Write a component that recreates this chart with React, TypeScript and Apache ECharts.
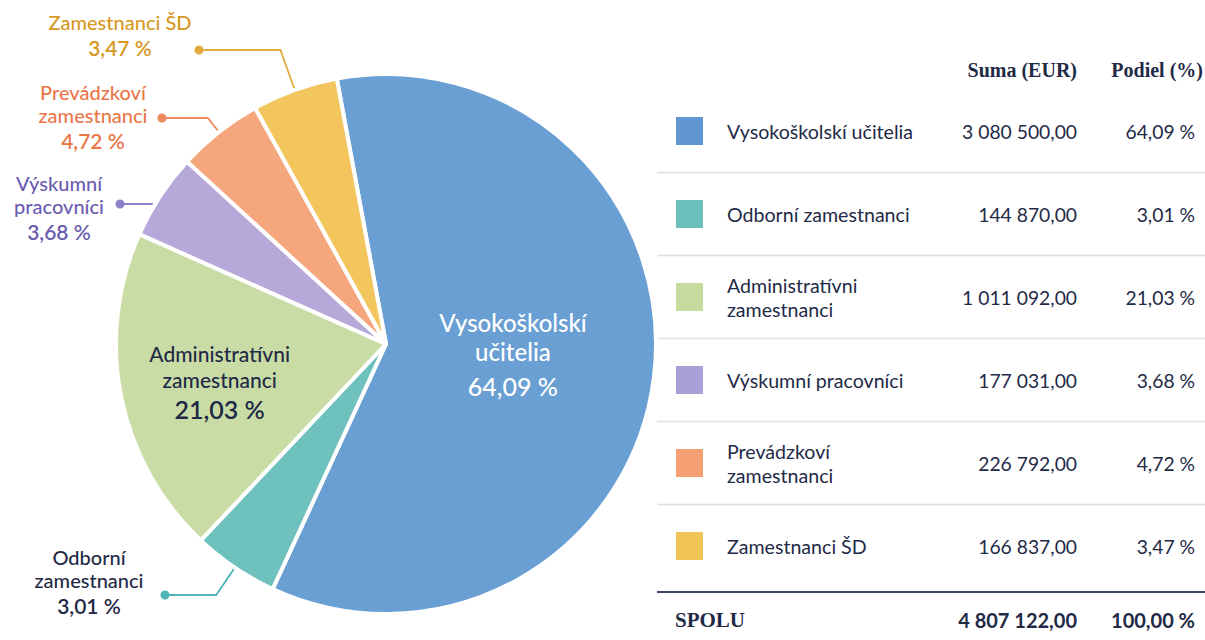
import React, { useEffect, useRef } from 'react';
import * as echarts from 'echarts';

// ---------- data ----------
const categories = [
  'Vysokoškolskí učitelia',
  'Odborní zamestnanci',
  'Administratívni zamestnanci',
  'Výskumní pracovníci',
  'Prevádzkoví zamestnanci',
  'Zamestnanci ŠD',
];
const pieLabelNames = [
  'Vysokoškolskí\nučitelia',
  'Odborní\nzamestnanci',
  'Administratívni\nzamestnanci',
  'Výskumní\npracovníci',
  'Prevádzkoví\nzamestnanci',
  'Zamestnanci ŠD',
];
const tableLabelNames = [
  'Vysokoškolskí učitelia',
  'Odborní zamestnanci',
  'Administratívni\nzamestnanci',
  'Výskumní pracovníci',
  'Prevádzkoví\nzamestnanci',
  'Zamestnanci ŠD',
];
const amounts = [3080500.0, 144870.0, 1011092.0, 177031.0, 226792.0, 166837.0];
const shares = [64.09, 3.01, 21.03, 3.68, 4.72, 3.47];
const totalShare = 100.0;
const headerLabels = ['Suma (EUR)', 'Podiel (%)'];
const totalLabel = 'SPOLU';

// ---------- styles ----------
const sliceColors = ['#6a9fd3', '#6fc1be', '#cadca5', '#b7a8da', '#f5a67c', '#f2c65d'];
const squareColors = ['#6097d2', '#6cbfbb', '#c6db9e', '#ab9fd8', '#f59f74', '#f0c456'];
const NAVY = '#1f2a47';
const FONT = 'Lato, "Noto Sans", sans-serif';
const SERIF = '"Liberation Serif", "DejaVu Serif", serif';

// outside label layout: index, dot position, text center, colours
const outerLabels = [
  { idx: 5, dot: [199, 50], text: [120, 22], textColor: '#d7981f', lineColor: '#e2ab40', mode: 'elbow' },
  { idx: 4, dot: [162, 118], text: [93, 92], textColor: '#e9774a', lineColor: '#ec8a5e', mode: 'elbow' },
  { idx: 3, dot: [120, 204], text: [59, 183], textColor: '#6a5db0', lineColor: '#8e81c9', mode: 'horizontal' },
  { idx: 1, dot: [165, 595], text: [89, 557], textColor: NAVY, lineColor: '#4fb4b6', mode: 'elbow' },
];

function fmtAmount(v: number): string {
  const [i, d] = v.toFixed(2).split('.');
  return i.replace(/\B(?=(\d{3})+(?!\d))/g, ' ') + ',' + d;
}
function fmtPct(v: number): string {
  return v.toFixed(2).replace('.', ',') + ' %';
}

export default function App() {
  const ref = useRef<HTMLDivElement>(null);

  useEffect(() => {
    document.body.style.margin = '0';
    const chart = echarts.init(ref.current!, null, { renderer: 'svg' });

    const innerLabels: Record<number, any> = {
      0: {
        show: true,
        position: 'inside',
        offset: [-10, -4],
        formatter: `{n|${pieLabelNames[0]}}\n{p|${fmtPct(shares[0])}}`,
        rich: {
          n: { fontFamily: FONT, fontSize: 24, fontWeight: 500, lineHeight: 29, color: '#ffffff', align: 'center' },
          p: { fontFamily: FONT, fontSize: 25, fontWeight: 500, lineHeight: 40, color: '#ffffff', align: 'center' },
        },
      },
      2: {
        show: true,
        position: 'inside',
        offset: [-31, 12],
        formatter: `{n|${pieLabelNames[2]}}\n{p|${fmtPct(shares[2])}}`,
        rich: {
          n: { fontFamily: FONT, fontSize: 21, fontWeight: 500, lineHeight: 26, color: NAVY, align: 'center' },
          p: { fontFamily: FONT, fontSize: 25, lineHeight: 33, color: NAVY, fontWeight: 600, align: 'center' },
        },
      },
    };

    const pieData = amounts.map((v, i) => ({
      name: categories[i],
      value: v,
      itemStyle: { color: sliceColors[i] },
      label: innerLabels[i] || { show: false },
    }));

    // ---- table ----
    const table: any[] = [];
    const colAmountX = 1077;
    const colPctX = 1195;
    const nameX = 727;
    const rowY = (i: number) => 131 + i * 83;
    table.push({
      type: 'text',
      style: { text: headerLabels[0], x: colAmountX, y: 70, align: 'right', verticalAlign: 'middle', font: `bold 20px ${SERIF}`, fill: NAVY },
    });
    table.push({
      type: 'text',
      style: { text: headerLabels[1], x: 1203, y: 70, align: 'right', verticalAlign: 'middle', font: `bold 20px ${SERIF}`, fill: NAVY },
    });
    categories.forEach((_, i) => {
      const y = rowY(i);
      table.push({ type: 'rect', shape: { x: 676, y: y - 14, width: 27, height: 28 }, style: { fill: squareColors[i] } });
      table.push({
        type: 'text',
        style: { text: tableLabelNames[i], x: nameX, y, align: 'left', verticalAlign: 'middle', fontFamily: FONT, fontSize: 19.6, lineHeight: 24, fill: NAVY },
      });
      table.push({
        type: 'text',
        style: { text: fmtAmount(amounts[i]), x: colAmountX, y, align: 'right', verticalAlign: 'middle', fontFamily: FONT, fontSize: 19.3, fill: NAVY },
      });
      table.push({
        type: 'text',
        style: { text: fmtPct(shares[i]), x: colPctX, y, align: 'right', verticalAlign: 'middle', fontFamily: FONT, fontSize: 19.3, fill: NAVY },
      });
      if (i < categories.length - 1) {
        const sy = y + 41.5;
        table.push({ type: 'line', shape: { x1: 657, y1: sy, x2: 1205, y2: sy }, style: { stroke: '#dcdfe5', lineWidth: 1.5 } });
      }
    });
    const totalLineY = rowY(categories.length - 1) + 46;
    table.push({ type: 'line', shape: { x1: 657, y1: totalLineY, x2: 1205, y2: totalLineY }, style: { stroke: '#3a455f', lineWidth: 2 } });
    const total = amounts.reduce((a, b) => a + b, 0);
    const ty = totalLineY + 28;
    table.push({ type: 'text', style: { text: totalLabel, x: 675, y: ty, align: 'left', verticalAlign: 'middle', font: `bold 21px ${SERIF}`, fill: NAVY } });
    table.push({ type: 'text', style: { text: fmtAmount(total), x: colAmountX, y: ty, align: 'right', verticalAlign: 'middle', fontFamily: FONT, fontSize: 20, fontWeight: 'bold', fill: NAVY } });
    table.push({ type: 'text', style: { text: fmtPct(totalShare), x: colPctX, y: ty, align: 'right', verticalAlign: 'middle', fontFamily: FONT, fontSize: 20, fontWeight: 'bold', fill: NAVY } });

    chart.setOption({
      animation: false,
      backgroundColor: '#ffffff',
      series: [
        {
          type: 'pie',
          center: [386, 344],
          radius: [0, 270],
          startAngle: 100.5,
          minAngle: 18.5,
          clockwise: true,
          avoidLabelOverlap: false,
          emphasis: { disabled: true },
          itemStyle: { borderColor: '#ffffff', borderWidth: 4 },
          labelLine: { show: false },
          data: pieData,
        },
      ],
      graphic: [{ type: 'group', id: 'table', children: table }],
    });

    // ---- outside labels, computed from the pie layout ----
    const outer: any[] = [];
    try {
      const seriesModel = (chart as any).getModel().getSeriesByIndex(0);
      const data = seriesModel.getData();
      outerLabels.forEach((cfg) => {
        const lay = data.getItemLayout(cfg.idx);
        const cx = lay.cx, cy = lay.cy, r = lay.r;
        const mid = (lay.startAngle + lay.endAngle) / 2;
        const [dx, dy] = cfg.dot;
        let pts: number[][];
        if (cfg.mode === 'horizontal') {
          const ex = cx - Math.sqrt(Math.max(0, r * r - (dy - cy) * (dy - cy))) + 2;
          pts = [[dx, dy], [ex, dy]];
        } else {
          const ex = cx + (r - 2) * Math.cos(mid);
          const ey = cy + (r - 2) * Math.sin(mid);
          const dirx = Math.cos(mid), diry = Math.sin(mid);
          const t = Math.abs(diry) > 1e-3 ? (dy - ey) / diry : -1;
          if (t > 0) {
            pts = [[dx, dy], [ex + t * dirx, dy], [ex, ey]];
          } else {
            pts = [[dx, dy], [ex, ey]];
          }
        }
        outer.push({ type: 'polyline', shape: { points: pts }, style: { stroke: cfg.lineColor, lineWidth: 1.8, fill: null } });
        outer.push({ type: 'circle', shape: { cx: dx, cy: dy, r: 4.5 }, style: { fill: cfg.lineColor } });
        const nameLines = pieLabelNames[cfg.idx];
        outer.push({
          type: 'text',
          style: {
            text: `{n|${nameLines}}\n{p|${fmtPct(shares[cfg.idx])}}`,
            x: cfg.text[0],
            y: cfg.text[1] - 11.5,
            align: 'center',
            verticalAlign: 'top',
            rich: {
              n: { fontFamily: FONT, fontSize: 20, fontWeight: 500, lineHeight: 23, fill: cfg.textColor, align: 'center' },
              p: { fontFamily: FONT, fontSize: 21, lineHeight: 27, fill: cfg.textColor, fontWeight: 600, align: 'center' },
            },
          },
        });
      });
    } catch (e) {
      // ignore
    }
    chart.setOption({ graphic: [{ type: 'group', id: 'table', children: table }, { type: 'group', id: 'outer', children: outer }] });

    return () => chart.dispose();
  }, []);

  return <div ref={ref} style={{ width: 1205, height: 640 }} />;
}
